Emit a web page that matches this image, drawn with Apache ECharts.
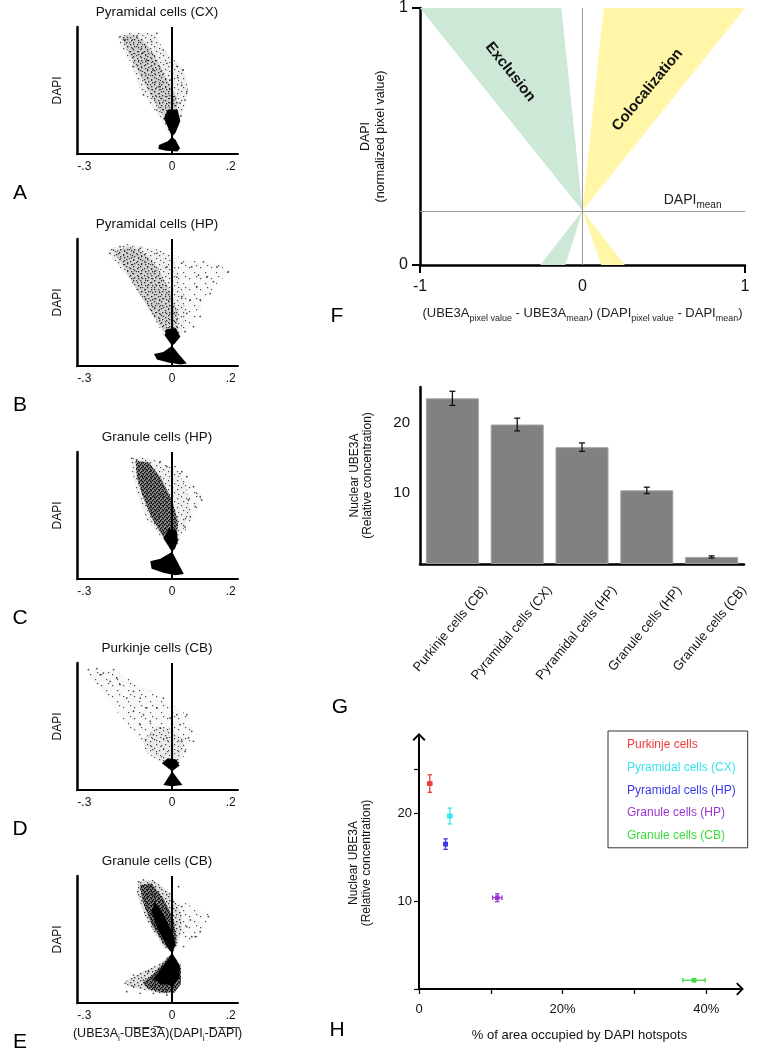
<!DOCTYPE html>
<html>
<head>
<meta charset="utf-8">
<title>Nuclear UBE3A and DAPI</title>
<script src="https://cdn.jsdelivr.net/npm/echarts@6.0.0/dist/echarts.min.js"></script>
<style>
html,body{margin:0;padding:0;background:#ffffff;}
#chart{width:773px;height:1050px;}
</style>
</head>
<body>
<div id="chart"></div>
<script>
const FONT = '"Liberation Sans", Arial, Helvetica, sans-serif';
const INK = '#111';

// ---------- Panels A–E : pixel clouds ----------
const scatterTitles = ['Pyramidal cells (CX)', 'Pyramidal cells (HP)', 'Granule cells (HP)', 'Purkinje cells (CB)', 'Granule cells (CB)'];
const scatterLetters = ['A', 'B', 'C', 'D', 'E'];
const scatterTickValues = [-0.3, 0, 0.2];
const scatterTickLabels = ['-.3', '0', '.2'];

// Panel A – Pyramidal cells (CX)
const envA = [[-0.183,0.92],[-0.155,0.955],[-0.058,0.95],[-0.03,0.82],[0.039,0.675],[0.056,0.50],[0.039,0.35],[0.016,0.19],[0,0.136],[-0.013,0.175],[-0.052,0.32],[-0.109,0.50],[-0.138,0.70],[-0.178,0.87]];
const bandA = [[-0.175,0.92],[-0.14,0.94],[-0.1,0.9],[-0.06,0.78],[-0.02,0.6],[0.015,0.45],[0.02,0.3],[0,0.136],[-0.03,0.3],[-0.07,0.45],[-0.11,0.62],[-0.15,0.8]];
const coreUpA = [[0,0.136],[-0.028,0.28],[-0.015,0.35],[0.018,0.35],[0.028,0.26],[0.012,0.17]];
const coreLowA = [[0,0.136],[0.012,0.11],[0.027,0.045],[0.018,0.02],[-0.02,0.025],[-0.047,0.04],[-0.045,0.07],[-0.015,0.1]];
const dotsA = [[0.036,0.66],[0.05,0.49],[0.033,0.54],[0.016,0.69],[0.027,0.40],[0.044,0.425],[-0.178,0.924],[-0.052,0.95],[-0.07,0.885],[-0.03,0.82],[-0.018,0.714],[-0.132,0.688],[-0.098,0.465],[-0.052,0.346],[-0.007,0.583],[0.005,0.425],[-0.087,0.74],[-0.041,0.53],[-0.16,0.9],[-0.12,0.93],[-0.1,0.8],[-0.065,0.66],[0.02,0.6],[0.03,0.3]];

// Panel B – Pyramidal cells (HP)
const sparseB = [[0.005,0.87],[0.07,0.83],[0.16,0.8],[0.195,0.74],[0.15,0.64],[0.11,0.52],[0.09,0.4],[0.06,0.3],[0.035,0.25],[0.04,0.5],[0.035,0.66]];
const envB = [[-0.218,0.92],[-0.155,0.96],[-0.052,0.92],[0.005,0.86],[0.033,0.65],[0.044,0.44],[0.033,0.257],[0.01,0.178],[0,0.16],[-0.018,0.205],[-0.052,0.336],[-0.098,0.52],[-0.144,0.677],[-0.212,0.87]];
const bandB = [[-0.2,0.9],[-0.15,0.94],[-0.1,0.9],[-0.05,0.78],[-0.01,0.6],[0.02,0.42],[0.02,0.25],[0,0.16],[-0.03,0.28],[-0.07,0.42],[-0.12,0.6],[-0.17,0.8]];
const coreUpB = [[0,0.16],[-0.025,0.24],[-0.02,0.29],[0.012,0.3],[0.028,0.23],[0.01,0.18]];
const coreLowB = [[0,0.16],[0.02,0.1],[0.05,0.02],[0.03,0.012],[-0.01,0.025],[-0.052,0.052],[-0.062,0.094],[-0.03,0.11]];
const dotsB = [[0.192,0.743],[0.107,0.82],[0.141,0.664],[0.096,0.52],[0.05,0.415],[0.067,0.78],[0.033,0.81],[0.118,0.70],[0.084,0.625],[0.062,0.52],[0.096,0.39],[0.073,0.31],[0.044,0.27],[0.13,0.57],[0.033,0.546],[0.016,0.70],[0.153,0.78],[0.09,0.717],[-0.2,0.913],[-0.178,0.94],[-0.109,0.926],[-0.052,0.887],[-0.018,0.78],[-0.212,0.887]];

// Panel C – Granule cells (HP)
const sparseC = [[0.02,0.85],[0.06,0.78],[0.1,0.66],[0.09,0.58],[0.06,0.45],[0.04,0.35],[0.03,0.4],[0.05,0.55],[0.05,0.7]];
const envC = [[-0.138,0.949],[-0.1,0.96],[-0.041,0.924],[0.02,0.85],[0.05,0.7],[0.06,0.55],[0.04,0.4],[0.02,0.28],[0,0.215],[-0.03,0.307],[-0.087,0.465],[-0.121,0.675],[-0.14,0.885]];
const bandC = [[-0.125,0.93],[-0.08,0.92],[-0.04,0.8],[0,0.62],[0.02,0.45],[0.015,0.3],[0,0.215],[-0.03,0.33],[-0.07,0.48],[-0.1,0.65],[-0.12,0.8]];
const coreUpC = [[0,0.215],[-0.03,0.32],[-0.01,0.4],[0.015,0.38],[0.02,0.3],[0.01,0.24]];
const coreLowC = [[0,0.215],[0.04,0.04],[0.01,0.03],[-0.03,0.05],[-0.07,0.08],[-0.075,0.14],[-0.04,0.16]];
const dotsC = [[0.096,0.648],[0.101,0.622],[0.073,0.727],[0.05,0.806],[0.033,0.845],[0.079,0.57],[0.062,0.49],[0.044,0.41],[0.027,0.83],[0.01,0.885],[0.084,0.675],[-0.138,0.95],[-0.121,0.937],[-0.041,0.924],[-0.018,0.885],[0.056,0.622]];

// Panel D – Purkinje cells (CB)
const envD = [[-0.292,0.948],[-0.2,0.948],[-0.132,0.856],[-0.03,0.724],[0.05,0.593],[0.073,0.462],[0.05,0.304],[0.016,0.173],[0,0.147],[-0.018,0.2],[-0.087,0.33],[-0.155,0.514],[-0.223,0.724],[-0.28,0.882]];
const bandD = [[-0.1,0.4],[-0.05,0.5],[0.0,0.48],[0.04,0.4],[0.035,0.28],[0.015,0.18],[0,0.147],[-0.04,0.22],[-0.09,0.3]];
const coreUpD = [[0,0.147],[-0.035,0.21],[-0.015,0.25],[0.015,0.24],[0.025,0.19]];
const coreLowD = [[0,0.147],[0.035,0.04],[0,0.03],[-0.03,0.04]];
const dotsD = [[-0.286,0.948],[-0.257,0.955],[-0.235,0.921],[-0.2,0.948],[-0.212,0.856],[-0.178,0.83],[-0.132,0.777],[-0.155,0.724],[-0.109,0.724],[-0.087,0.646],[-0.132,0.62],[-0.052,0.646],[-0.03,0.724],[-0.075,0.54],[-0.109,0.514],[-0.041,0.488],[-0.064,0.436],[0.016,0.593],[0.05,0.593],[0.027,0.514],[0.067,0.462],[0.056,0.41],[0.033,0.383],[0.073,0.383],[0.044,0.304],[-0.007,0.567],[-0.189,0.882],[-0.246,0.908],[-0.098,0.593],[-0.018,0.41]];

// Panel E – Granule cells (CB)
const sparseE = [[0.0,0.86],[0.05,0.78],[0.13,0.69],[0.1,0.55],[0.06,0.47],[0.03,0.5],[0.035,0.7]];
const envUpE = [[-0.115,0.955],[-0.064,0.969],[-0.007,0.864],[0.033,0.706],[0.033,0.575],[0.016,0.444],[0,0.391],[-0.03,0.444],[-0.087,0.654],[-0.121,0.864]];
const bandUpE = [[-0.11,0.93],[-0.07,0.94],[-0.03,0.82],[0.005,0.66],[0.015,0.5],[0,0.391],[-0.03,0.47],[-0.07,0.62],[-0.1,0.8]];
const coreUpE = [[0,0.391],[-0.02,0.46],[-0.05,0.58],[-0.07,0.72],[-0.06,0.8],[-0.03,0.7],[0.0,0.56],[0.012,0.46]];
const envLowE = [[0,0.391],[0.03,0.3],[0.03,0.15],[0.01,0.08],[-0.03,0.07],[-0.09,0.1],[-0.15,0.13],[-0.16,0.17],[-0.1,0.25],[-0.05,0.3]];
const bandLowE = [[0,0.391],[0.03,0.28],[0.03,0.15],[0.01,0.09],[-0.03,0.08],[-0.08,0.11],[-0.1,0.16],[-0.06,0.24]];
const coreLowE = [[0,0.391],[0.025,0.3],[0.025,0.2],[0.005,0.14],[-0.04,0.15],[-0.065,0.19],[-0.04,0.26]];
const dotsE = [[0.124,0.68],[0.096,0.562],[0.079,0.522],[0.05,0.60],[0.062,0.654],[0.033,0.759],[0.022,0.916],[0.039,0.444],[0.067,0.522],[-0.115,0.955],[-0.098,0.969],[-0.16,0.155],[-0.132,0.22],[-0.155,0.089],[-0.109,0.076],[-0.098,0.18],[-0.064,0.076],[-0.018,0.063],[-0.132,0.129],[-0.081,0.247]];

// ---------- Panel F : schematic ----------
const dapiMean = 0.211;
const exclusionUpper = [[0,0.211],[-1,1],[-0.13,1]];
const exclusionLower = [[0,0.211],[-0.26,0],[-0.105,0]];
const colocUpper = [[0,0.211],[0.13,1],[1,1]];
const colocLower = [[0,0.211],[0.115,0],[0.26,0]];
const fTickValues = [-1, 0, 1];

// ---------- Panels G & H ----------
const gCategories = ['Purkinje cells (CB)', 'Pyramidal cells (CX)', 'Pyramidal cells (HP)', 'Granule cells (HP)', 'Granule cells (CB)'];
const nuclearUBE3A = [23.4, 19.7, 16.5, 10.4, 1.0];
const nuclearErr = [1.0, 0.9, 0.6, 0.45, 0.15];
const hNames = ['Purkinje cells', 'Pyramidal cells (CX)', 'Pyramidal cells (HP)', 'Granule cells (HP)', 'Granule cells (CB)'];
const hotspotPct = [1.5, 4.3, 3.7, 10.9, 38.3];
const hotspotErr = [0.3, 0.3, 0.25, 0.65, 1.55];
const hColors = ['#ef3b3b', '#3ae4ee', '#3a3ae8', '#9b35d0', '#3bdc3b'];

// ---------- layout & styles ----------
const scTops = [27, 239, 452, 663, 876];
const SC_LEFT = 77, SC_W = 161, SC_H = 127;

// speckle textures (styling only)
function makeTile(size, spots, r, color) {
  const c = document.createElement('canvas');
  c.width = c.height = size;
  const g = c.getContext('2d');
  g.fillStyle = color;
  spots.forEach(([x, y]) => g.fillRect(x, y, r, r));
  return c;
}
const tiles = {
  sparse: makeTile(11, [[2, 3], [7, 8], [9, 1]], 1.2, 'rgba(30,30,30,0.8)'),
  env: makeTile(9, [[1, 1], [6, 3], [3, 6], [7, 8]], 1.2, 'rgba(30,30,30,0.8)'),
  band: makeTile(7, [[0, 0], [4, 2], [1, 4], [5, 5]], 1.3, 'rgba(20,20,20,0.85)'),
  dense: makeTile(4, [[0, 0], [2, 1], [1, 3], [3, 2]], 1.4, 'rgba(0,0,0,0.95)')
};
const flat = {sparse: 'rgba(0,0,0,0.025)', env: 'rgba(0,0,0,0.06)', band: 'rgba(0,0,0,0.12)', dense: 'rgba(0,0,0,0.4)'};

const panels = [
  {layers:[[envA,'env'],[bandA,'band'],[coreUpA,'core'],[coreLowA,'core']], dots:dotsA},
  {layers:[[sparseB,'sparse'],[envB,'env'],[bandB,'band'],[coreUpB,'core'],[coreLowB,'core']], dots:dotsB},
  {layers:[[sparseC,'sparse'],[envC,'env'],[bandC,'dense'],[coreUpC,'core'],[coreLowC,'core']], dots:dotsC},
  {layers:[[envD,'sparse'],[bandD,'env'],[coreUpD,'core'],[coreLowD,'core']], dots:dotsD},
  {layers:[[sparseE,'sparse'],[envUpE,'band'],[bandUpE,'dense'],[coreUpE,'core'],[envLowE,'band'],[bandLowE,'dense'],[coreLowE,'core']], dots:dotsE}
];

function layerShapes(pts, lvl, api) {
  const points = pts.map(q => api.coord(q));
  if (lvl === 'core') return [{type: 'polygon', shape: {points}, style: {fill: '#000'}}];
  return [
    {type: 'polygon', shape: {points}, style: {fill: flat[lvl]}},
    {type: 'polygon', shape: {points}, style: {fill: {image: tiles[lvl], repeat: 'repeat'}}}
  ];
}

const grids = [], xAxes = [], yAxes = [], series = [], graphics = [];
const txt = (extra) => Object.assign({color: INK, fontFamily: FONT}, extra);

panels.forEach((p, i) => {
  grids.push({left: SC_LEFT, top: scTops[i], width: SC_W, height: SC_H});
  xAxes.push({
    gridIndex: i, type: 'value', min: -0.325, max: 0.225,
    axisLine: {onZero: false, lineStyle: {color: '#000', width: 2}},
    axisTick: {show: false}, splitLine: {show: false},
    axisLabel: {customValues: scatterTickValues, margin: 7, fontSize: 12, color: INK, fontFamily: FONT,
      formatter: v => scatterTickLabels[scatterTickValues.findIndex(t => Math.abs(t - v) < 1e-9)]},
    name: i === 4 ? '(UBE3A{s|i}-U\u0305B\u0305E\u0305\u0033\u0305A\u0305)(DAPI{s|i}-D\u0305A\u0305P\u0305I\u0305)' : '',
    nameLocation: 'middle', nameGap: 22,
    nameTextStyle: txt({fontSize: 12.5, lineHeight: 18, rich: {s: {fontSize: 8.5, lineHeight: 11, verticalAlign: 'bottom', color: INK, fontFamily: FONT}}})
  });
  yAxes.push({
    gridIndex: i, type: 'value', min: 0, max: 1,
    axisLine: {show: true, onZero: false, lineStyle: {color: '#000', width: 2.5}},
    axisTick: {show: false}, axisLabel: {show: false}, splitLine: {show: false},
    name: 'DAPI', nameLocation: 'middle', nameGap: 13, nameTextStyle: txt({fontSize: 12})
  });
  series.push({
    type: 'custom', xAxisIndex: i, yAxisIndex: i, silent: true, z: 2, data: [[0, 0.5]],
    renderItem: (params, api) => ({
      type: 'group',
      children: p.layers.reduce((acc, [pts, lvl]) => acc.concat(layerShapes(pts, lvl, api)), [])
    })
  });
  series.push({
    type: 'scatter', xAxisIndex: i, yAxisIndex: i, silent: true, z: 3,
    symbolSize: 1.8, itemStyle: {color: '#222'}, data: p.dots,
    markLine: {silent: true, symbol: 'none', label: {show: false}, lineStyle: {color: '#000', width: 2, type: 'solid'}, data: [{xAxis: 0}]}
  });
  graphics.push({type: 'text', x: 157, y: scTops[i] - 15, style: {text: scatterTitles[i], fill: INK, font: '13.5px ' + FONT, align: 'center', verticalAlign: 'middle'}});
  graphics.push({type: 'text', x: 20, y: scTops[i] + SC_H + 39, style: {text: scatterLetters[i], fill: '#000', font: '21px ' + FONT, align: 'center', verticalAlign: 'middle'}});
});

// ---------- F ----------
grids.push({left: 420, top: 8, width: 325, height: 257});
xAxes.push({
  gridIndex: 5, type: 'value', min: -1, max: 1,
  axisLine: {onZero: false, lineStyle: {color: '#000', width: 2.5}},
  axisTick: {customValues: [-1, 1], length: 8, lineStyle: {color: '#000', width: 2}}, splitLine: {show: false},
  axisLabel: {customValues: fTickValues, margin: 14, fontSize: 16, color: INK, fontFamily: FONT, formatter: v => String(v)},
  name: '(UBE3A{s|pixel value} - UBE3A{s|mean}) (DAPI{s|pixel value} - DAPI{s|mean})',
  nameLocation: 'middle', nameGap: 38,
  nameTextStyle: txt({fontSize: 13, lineHeight: 20, color: '#222', rich: {s: {fontSize: 9, lineHeight: 12, verticalAlign: 'bottom', color: '#222', fontFamily: FONT}}})
});
yAxes.push({
  gridIndex: 5, type: 'value', min: 0, max: 1,
  axisLine: {show: true, onZero: false, lineStyle: {color: '#000', width: 2.5}},
  axisTick: {customValues: [0, 1], length: 8, lineStyle: {color: '#000', width: 2}}, splitLine: {show: false},
  axisLabel: {customValues: [0, 1], margin: 12, fontSize: 16, color: INK, fontFamily: FONT},
  name: 'DAPI\n(normalized pixel value)', nameLocation: 'middle', nameGap: 32,
  nameTextStyle: txt({fontSize: 12.5, lineHeight: 15})
});
const fPolys = [[exclusionUpper, '#cde8d6'], [exclusionLower, '#cde8d6'], [colocUpper, '#fff6a8'], [colocLower, '#fff6a8']];
series.push({
  type: 'custom', xAxisIndex: 5, yAxisIndex: 5, silent: true, z: 2, data: [[0, 0.5]],
  renderItem: (params, api) => {
    const ex = api.coord([-0.444, 0.751]);
    const co = api.coord([0.40, 0.681]);
    const dm = api.coord([0.5, dapiMean + 0.04]);
    return {type: 'group', children: fPolys.map(([pts, c]) => ({type: 'polygon', shape: {points: pts.map(q => api.coord(q))}, style: {fill: c}})).concat([
      {type: 'text', x: ex[0], y: ex[1], rotation: -0.9, style: {text: 'Exclusion', font: 'bold 15px ' + FONT, fill: '#111', align: 'center', verticalAlign: 'middle'}},
      {type: 'text', x: co[0], y: co[1], rotation: 0.88, style: {text: 'Colocalization', font: 'bold 15px ' + FONT, fill: '#111', align: 'center', verticalAlign: 'middle'}},
      {type: 'text', x: dm[0], y: dm[1], style: {text: '{m|DAPI}{s|mean}', align: 'left', verticalAlign: 'middle', rich: {m: {fontSize: 14, lineHeight: 20, fontFamily: FONT, fill: '#222', color: '#222'}, s: {fontSize: 10, lineHeight: 13, verticalAlign: 'bottom', fontFamily: FONT, fill: '#222', color: '#222'}}}}
    ])};
  },
  markLine: {silent: true, symbol: 'none', label: {show: false}, lineStyle: {color: '#9a9a9a', width: 1, type: 'solid'}, data: [{xAxis: 0}, {yAxis: dapiMean}]}
});
graphics.push({type: 'text', x: 337, y: 316, style: {text: 'F', fill: '#000', font: '21px ' + FONT, align: 'center', verticalAlign: 'middle'}});

// ---------- G ----------
grids.push({left: 420, top: 387, width: 324, height: 177});
xAxes.push({
  gridIndex: 6, type: 'category', data: gCategories,
  axisLine: {onZero: false, lineStyle: {color: '#000', width: 2.5}},
  axisTick: {show: false}, axisLabel: {show: false}, splitLine: {show: false}
});
yAxes.push({
  gridIndex: 6, type: 'value', min: 0, max: 25,
  axisLine: {show: true, onZero: false, lineStyle: {color: '#000', width: 2.5}},
  axisTick: {customValues: [0, 10, 20, 25], length: 5, lineStyle: {color: '#000', width: 1.5}}, splitLine: {show: false},
  axisLabel: {customValues: [10, 20], margin: 10, fontSize: 15, color: INK, fontFamily: FONT},
  name: 'Nuclear UBE3A\n(Relative concentration)', nameLocation: 'middle', nameGap: 46,
  nameTextStyle: txt({fontSize: 12, lineHeight: 13})
});
series.push({
  type: 'bar', xAxisIndex: 6, yAxisIndex: 6, data: nuclearUBE3A, barWidth: 53, silent: true,
  itemStyle: {color: '#818181', borderColor: '#a0a0a0', borderWidth: 1}
});
series.push({
  type: 'custom', xAxisIndex: 6, yAxisIndex: 6, silent: true, z: 4,
  data: nuclearUBE3A.map((v, i) => [i, v - nuclearErr[i], v + nuclearErr[i]]),
  renderItem: (params, api) => {
    const lo = api.coord([api.value(0), api.value(1)]);
    const hi = api.coord([api.value(0), api.value(2)]);
    const st = {stroke: '#111', lineWidth: 1.3};
    return {type: 'group', children: [
      {type: 'line', shape: {x1: lo[0], y1: lo[1], x2: hi[0], y2: hi[1]}, style: st},
      {type: 'line', shape: {x1: lo[0] - 3, y1: lo[1], x2: lo[0] + 3, y2: lo[1]}, style: st},
      {type: 'line', shape: {x1: hi[0] - 3, y1: hi[1], x2: hi[0] + 3, y2: hi[1]}, style: st}
    ]};
  }
});
graphics.push({type: 'text', x: 340, y: 707, style: {text: 'G', fill: '#000', font: '21px ' + FONT, align: 'center', verticalAlign: 'middle'}});

// ---------- H ----------
const chevron = 'path://M10,0 L20,10 L18,12 L10,4 L2,12 L0,10 Z';
grids.push({left: 419, top: 737, width: 321, height: 252});
xAxes.push({
  gridIndex: 7, type: 'value', min: 0, max: 44.7,
  axisLine: {onZero: false, symbol: ['none', chevron], symbolSize: [13, 8], lineStyle: {color: '#000', width: 2}},
  axisTick: {customValues: [0, 10, 20, 30, 40], length: 5, lineStyle: {color: '#000', width: 1.2}}, splitLine: {show: false},
  axisLabel: {customValues: [0, 20, 40], margin: 14, fontSize: 13, color: INK, fontFamily: FONT, formatter: v => v === 0 ? '0' : v + '%'},
  name: '% of area occupied by DAPI hotspots', nameLocation: 'middle', nameGap: 40,
  nameTextStyle: txt({fontSize: 13})
});
yAxes.push({
  gridIndex: 7, type: 'value', min: 0, max: 28.7,
  axisLine: {show: true, onZero: false, symbol: ['none', chevron], symbolSize: [13, 8], lineStyle: {color: '#000', width: 2}},
  axisTick: {customValues: [0, 10, 20, 25], length: 5, lineStyle: {color: '#000', width: 1.2}}, splitLine: {show: false},
  axisLabel: {customValues: [10, 20], margin: 7, fontSize: 13, color: INK, fontFamily: FONT},
  name: 'Nuclear UBE3A\n(Relative concentration)', nameLocation: 'middle', nameGap: 46,
  nameTextStyle: txt({fontSize: 12, lineHeight: 13})
});
hNames.forEach((n, i) => {
  const col = hColors[i];
  series.push({
    name: n, type: 'custom', xAxisIndex: 7, yAxisIndex: 7, silent: true, z: 4,
    itemStyle: {color: col},
    data: [[hotspotPct[i], nuclearUBE3A[i], hotspotErr[i], nuclearErr[i]]],
    renderItem: (params, api) => {
      const x = api.value(0), y = api.value(1), xe = api.value(2), ye = api.value(3);
      const c = api.coord([x, y]);
      const t = api.coord([x, y + ye]), b = api.coord([x, y - ye]);
      const l = api.coord([x - xe, y]), r = api.coord([x + xe, y]);
      const st = {stroke: col, lineWidth: 1.3};
      const cap = 2.2;
      return {type: 'group', children: [
        {type: 'line', shape: {x1: t[0], y1: t[1], x2: b[0], y2: b[1]}, style: st},
        {type: 'line', shape: {x1: t[0] - cap, y1: t[1], x2: t[0] + cap, y2: t[1]}, style: st},
        {type: 'line', shape: {x1: b[0] - cap, y1: b[1], x2: b[0] + cap, y2: b[1]}, style: st},
        {type: 'line', shape: {x1: l[0], y1: l[1], x2: r[0], y2: r[1]}, style: st},
        {type: 'line', shape: {x1: l[0], y1: l[1] - cap, x2: l[0], y2: l[1] + cap}, style: st},
        {type: 'line', shape: {x1: r[0], y1: r[1] - cap, x2: r[0], y2: r[1] + cap}, style: st},
        {type: 'rect', shape: {x: c[0] - 2.3, y: c[1] - 2.3, width: 4.6, height: 4.6}, style: {fill: col}}
      ]};
    }
  });
});
graphics.push({type: 'text', x: 337, y: 1030, style: {text: 'H', fill: '#000', font: '21px ' + FONT, align: 'center', verticalAlign: 'middle'}});

// ---------- G category labels (anchored at category boundaries) ----------
grids.push({left: 420, top: 387, width: 324, height: 177});
xAxes.push({
  gridIndex: 8, type: 'category', boundaryGap: false, data: [''].concat(gCategories),
  axisLine: {show: false}, axisTick: {show: false}, splitLine: {show: false},
  axisLabel: {interval: 0, rotate: 50, margin: 24, fontSize: 13, color: INK, fontFamily: FONT}
});
yAxes.push({gridIndex: 8, type: 'value', show: false, min: 0, max: 1});

const option = {
  backgroundColor: '#ffffff',
  animation: false,
  textStyle: {fontFamily: FONT},
  grid: grids,
  xAxis: xAxes,
  yAxis: yAxes,
  legend: {
    left: 608, top: 731, orient: 'vertical',
    data: hNames.map((n, i) => ({name: n, textStyle: {color: hColors[i]}, itemStyle: {opacity: 0}})),
    icon: 'rect', itemWidth: 10, itemHeight: 12, itemGap: 10.7,
    padding: [8, 12, 6, 4], borderColor: '#333', borderWidth: 1,
    textStyle: {fontSize: 12, fontFamily: FONT}, selectedMode: false
  },
  series: series,
  graphic: graphics
};

const chart = echarts.init(document.getElementById('chart'), null, {renderer: 'canvas'});
chart.setOption(option);
</script>
</body>
</html>
